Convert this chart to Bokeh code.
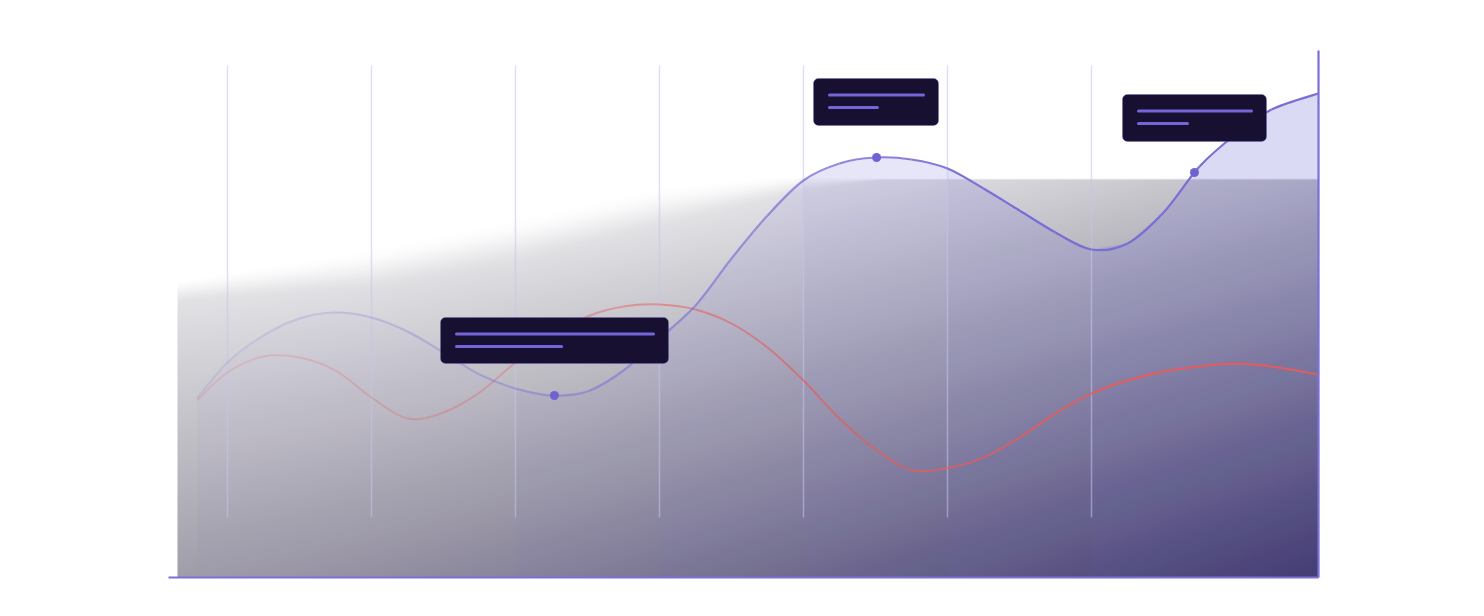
import numpy as np

from bokeh.embed import file_html
from bokeh.models import BoxAnnotation
from bokeh.models import ColumnDataSource
from bokeh.models import Range1d
from bokeh.plotting import figure
from bokeh.resources import INLINE

# sample positions (grid lines sit on every 4th unit)
T = [3.15] + list(range(4, 34)) + [34.3]
PURPLE = [35.8, 43.0, 48.4, 51.8, 53.0, 52.0, 49.2, 45.0, 40.6, 37.8, 36.4, 37.2,
          41.4, 47.8, 54.4, 63.8, 72.4, 79.4, 82.8, 84.0, 83.6, 81.8, 77.8, 73.4,
          69.0, 65.6, 66.8, 73.0, 82.2, 88.6, 93.6, 96.8]
RED = [35.4, 41.0, 44.2, 44.0, 41.4, 36.0, 31.8, 33.0, 37.0, 43.0, 48.2, 52.2,
       54.2, 54.6, 53.6, 50.8, 46.0, 39.4, 31.8, 25.6, 21.5, 21.9, 24.0, 28.0,
       32.8, 36.8, 39.4, 41.2, 42.2, 42.8, 42.2, 40.6]
MARK_T = [13.08, 22.03, 30.86]
MARK_V = [36.4, 84.0, 81.0]
GRID_T = [4, 8, 12, 16, 20, 24, 28]

# callout boxes (placeholder tooltips)
CALLOUT_LEFT = [9.917, 20.278, 28.861]
CALLOUT_RIGHT = [16.25, 23.75, 32.861]
CALLOUT_TOP = [52.0, 99.8, 96.6]
CALLOUT_BOTTOM = [42.8, 90.4, 87.2]
CALLOUT_SHORT = [2.92, 1.33, 1.36]

X_MIN, X_MAX = 2.361, 34.306
Y_TOP = 105.4
SHADE_LEFT, SHADE_TOP = 2.611, 79.84

LINE_PURPLE = '#7a6ed6'
LINE_RED = '#e65b5b'


def bezier_source(xs, ys, alpha_end):
  pts = list(zip(xs, ys))
  ext = [pts[0]] + pts + [pts[-1]]
  d = dict(x0=[], y0=[], x1=[], y1=[], cx0=[], cy0=[], cx1=[], cy1=[], alpha=[])
  for i in range(len(pts) - 1):
    p0, p1, p2, p3 = ext[i], ext[i + 1], ext[i + 2], ext[i + 3]
    d['x0'].append(p1[0]); d['y0'].append(p1[1])
    d['x1'].append(p2[0]); d['y1'].append(p2[1])
    d['cx0'].append(p1[0] + (p2[0] - p0[0]) / 6); d['cy0'].append(p1[1] + (p2[1] - p0[1]) / 6)
    d['cx1'].append(p2[0] - (p3[0] - p1[0]) / 6); d['cy1'].append(p2[1] - (p3[1] - p1[1]) / 6)
    mid = (p1[0] + p2[0]) / 2
    f = min(max((mid - 3) / (alpha_end - 3), 0), 1)
    d['alpha'].append(0.15 + 0.85 * f ** 1.3)
  return ColumnDataSource(data=d)


def shade_image():
  # soft grey-to-violet backdrop behind the series
  w, h = 1141, 400
  px = 177 + np.arange(w) + 0.5
  py = 577 - (np.arange(h) + 0.5)
  PX, PY = np.meshgrid(px, py)
  u = (PX - 177) / 1141
  v = np.clip((PY - 178) / 399, 0, 1)
  s = np.clip(0.46 * v + 0.32 * u ** 1.6 + 0.22 * u * v, 0, 1)
  stops = [0, 0.42, 0.7, 1.0]
  cols = [(255, 255, 255), (168, 166, 176), (112, 107, 132), (54, 45, 84)]
  edge = np.interp(PX, [177, 371, 514, 661, 800, 880], [290, 268, 240, 205, 182, 178])
  soft = np.interp(PX, [177, 371, 514, 661, 800, 880], [12, 22, 25, 22, 10, 1])
  m = np.clip((PY - edge + soft) / (2 * soft), 0, 1)
  m = m * m * (3 - 2 * m)
  img = np.empty((h, w), dtype=np.uint32)
  view = img.view(dtype=np.uint8).reshape((h, w, 4))
  for k in range(3):
    view[:, :, k] = np.interp(s, stops, [c[k] for c in cols]).astype(np.uint8)
  view[:, :, 3] = (m * 255).astype(np.uint8)
  return img


p = figure(width=1468, height=600, x_range=Range1d(-83 / 36, 1385 / 36),
           y_range=Range1d(-4.6, 115.4), x_axis_location=None, y_axis_location=None,
           toolbar_location=None, output_backend='svg', min_border=0,
           outline_line_color=None, background_fill_color='white',
           border_fill_color='white')
p.xgrid.visible = False
p.ygrid.visible = False

p.image_rgba(image=[shade_image()], x=SHADE_LEFT, y=0, dw=X_MAX - SHADE_LEFT, dh=SHADE_TOP)

# area under the purple series: faint on the left, stronger to the right
# (steps start on grid lines so the seams hide behind them)
p.varea(x=T, y1=0, y2=PURPLE, fill_color=LINE_PURPLE, fill_alpha=0.03)
for g in GRID_T[2:]:
  k = T.index(g)
  p.varea(x=T[k:], y1=0, y2=PURPLE[k:], fill_color=LINE_PURPLE, fill_alpha=0.05)

p.segment(x0=GRID_T, y0=12, x1=GRID_T, y1=102.4, line_color='#c9c3ee', line_alpha=0.55,
          line_width=1.5)

p.bezier(x0='x0', y0='y0', x1='x1', y1='y1', cx0='cx0', cy0='cy0', cx1='cx1', cy1='cy1',
         source=bezier_source(T, RED, 28), line_color=LINE_RED, line_alpha='alpha',
         line_width=1.9)
p.bezier(x0='x0', y0='y0', x1='x1', y1='y1', cx0='cx0', cy0='cy0', cx1='cx1', cy1='cy1',
         source=bezier_source(T, PURPLE, 25), line_color=LINE_PURPLE, line_alpha='alpha',
         line_width=2.2)

p.scatter(x=MARK_T, y=MARK_V, size=9, fill_color='#6f63d3', line_color=None)

# axis lines
p.segment(x0=[X_MIN, X_MAX], y0=[0, 0], x1=[X_MAX, X_MAX], y1=[0, Y_TOP],
          line_color='#7b70d8', line_width=2.2)

for left, right, top, bottom in zip(CALLOUT_LEFT, CALLOUT_RIGHT, CALLOUT_TOP, CALLOUT_BOTTOM):
  p.add_layout(BoxAnnotation(left=left, right=right, top=top, bottom=bottom,
                             fill_color='#171031', fill_alpha=1.0, line_color='#6b5fc9',
                             line_alpha=0.35, line_width=1, border_radius=5,
                             level='annotation'))

bars = dict(x0=[], y0=[], x1=[], y1=[])
for left, right, top, short in zip(CALLOUT_LEFT, CALLOUT_RIGHT, CALLOUT_TOP, CALLOUT_SHORT):
  bars['x0'] += [left + 0.444, left + 0.444]
  bars['x1'] += [right - 0.417, left + 0.444 + short]
  bars['y0'] += [top - 3.3, top - 5.8]
  bars['y1'] += [top - 3.3, top - 5.8]
bar_renderer = p.segment(x0='x0', y0='y0', x1='x1', y1='y1', source=ColumnDataSource(bars),
                         line_color='#7466d9', line_width=3, line_cap='round')
bar_renderer.level = 'overlay'

open('out.html', 'w').write(file_html(p, INLINE))
